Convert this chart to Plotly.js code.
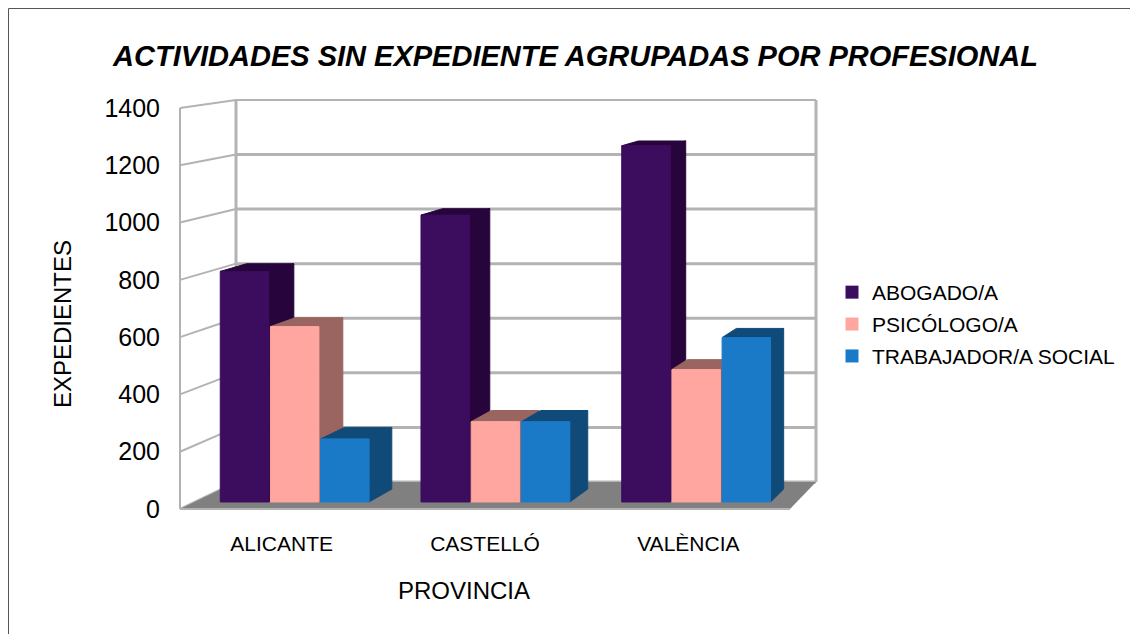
<!DOCTYPE html>
<html><head><meta charset="utf-8">
<script src="https://cdn.plot.ly/plotly-3.0.1.min.js"></script>
<style>html,body{margin:0;padding:0;background:#fff}#c{width:1130px;height:634px}</style>
</head><body><div id="c"></div>
<script>
const categories = ['ALICANTE', 'CASTELLÓ', 'VALÈNCIA'];
const abogado = [815, 1014, 1259];
const psicologo = [620, 284, 468];
const trabajador = [223, 284, 581];
const seriesNames = ['ABOGADO/A', 'PSICÓLOGO/A', 'TRABAJADOR/A SOCIAL'];
const yTicks = [0, 200, 400, 600, 800, 1000, 1200, 1400];
const frontColors = ['#3c0c5e', '#ffa6a0', '#1b7ac8'];
const darkColors = ['#27053c', '#9a6560', '#104a78'];
const FONT = 'Liberation Sans, Arial, sans-serif';

const series = [abogado, psicologo, trabajador];
const backShrink = 54.6 / 57.3, backDrop = 27 / 57.3 * 200;
const backXStart = 56 / 610, backXEnd = 26 / 610;
function proj(u, v, d) {
  const xf = u, xb = backXStart + u * (1 + backXEnd - backXStart);
  const yb = backDrop + v * backShrink;
  return [xf + (xb - xf) * d, v + (yb - v) * d];
}
function poly(pts, color, lineColor, lw, mode) {
  return {
    type: 'scatter', x: pts.map(p => p[0]), y: pts.map(p => p[1]),
    mode: 'lines', fill: mode === 'open' ? 'none' : 'toself', fillcolor: color,
    line: {color: lineColor || color, width: lw === undefined ? 1 : lw},
    hoverinfo: 'skip', showlegend: false, cliponaxis: false
  };
}
const traces = [];
const GRID = '#b3b3b3';
yTicks.forEach((t, k) => {
  const top = k === yTicks.length - 1;
  traces.push(poly([proj(0, t, 0), proj(0, t, 1)], null, GRID, 2, 'open'));
  traces.push(poly([proj(0, t, 1), proj(1, t, 1)], null, GRID, top ? 2 : 3, 'open'));
});
traces.push(poly([proj(0, 0, 0), proj(0, 1400, 0)], null, GRID, 2, 'open'));
traces.push(poly([proj(0, 0, 1), proj(0, 1400, 1)], null, GRID, 3, 'open'));
traces.push(poly([proj(1, 0, 1), proj(1, 1400, 1)], null, GRID, 3, 'open'));
traces.push(poly([proj(0, 0, 0), proj(1, 0, 0), proj(1, 0, 1), proj(0, 0, 1), proj(0, 0, 0)], '#808080', '#808080', 0));
traces.push(poly([proj(0, 0, 0), proj(1, 0, 0)], null, GRID, 2, 'open'));
const dF = 0.26, dB = 0.74, barW = 0.0805;
categories.forEach((cat, i) => {
  series.forEach((vals, s) => {
    const v = vals[i];
    const u0 = i / categories.length + 1 / 24 + s / 12 + 0.001, u1 = u0 + barW;
    traces.push(poly([proj(u1, 0, dF), proj(u1, 0, dB), proj(u1, v, dB), proj(u1, v, dF), proj(u1, 0, dF)], darkColors[s]));
    traces.push(poly([proj(u0, v, dF), proj(u1, v, dF), proj(u1, v, dB), proj(u0, v, dB), proj(u0, v, dF)], darkColors[s]));
    traces.push(poly([proj(u0, 0, dF), proj(u1, 0, dF), proj(u1, v, dF), proj(u0, v, dF), proj(u0, 0, dF)], frontColors[s]));
  });
});
seriesNames.forEach((n, s) => traces.push({
  type: 'scatter', mode: 'markers', x: [null], y: [null], name: n, legendgroup: n,
  marker: {symbol: 'square', size: 13, color: frontColors[s]}, hoverinfo: 'skip'
}));

// pixel frame: plot area spans x 108..820 and y 96..552
const PL = 108, PR = 820, PT = 96, PB = 552, PW = PR - PL, PH = PB - PT;
const pxPerU = 610, pxPerV = 401 / 1400;
const fx = px => (px - PL) / PW, fy = py => (PB - py) / PH;
const layout = {
  width: 1130, height: 634, paper_bgcolor: '#fff', plot_bgcolor: 'rgba(0,0,0,0)',
  margin: {l: PL, r: 1130 - PR, t: PT, b: 634 - PB, autoexpand: false},
  title: {text: '<b><i>ACTIVIDADES SIN EXPEDIENTE AGRUPADAS POR PROFESIONAL</i></b>',
    x: 575.5 / 1130, xanchor: 'center', xref: 'container', y: 1 - 56 / 634, yanchor: 'middle', yref: 'container',
    font: {family: FONT, size: 29, color: '#000'}},
  xaxis: {range: [(PL - 180) / pxPerU, (PR - 180) / pxPerU], showgrid: false, zeroline: false, showline: false, ticks: '',
    anchor: 'free', position: fy(511),
    tickmode: 'array', tickvals: categories.map((c, i) => (i + 0.5) / categories.length), ticktext: categories,
    ticklabelstandoff: 18, tickfont: {family: FONT, size: 21, color: '#000'},
    title: {text: 'PROVINCIA', standoff: 28, font: {family: FONT, size: 24, color: '#000'}}},
  yaxis: {range: [(509 - PB) / pxPerV, (509 - PT) / pxPerV], showgrid: false, zeroline: false, showline: false, ticks: '',
    anchor: 'free', position: fx(160), tickmode: 'array', tickvals: yTicks,
    tickfont: {family: FONT, size: 25, color: '#000'},
    title: {text: 'EXPEDIENTES', standoff: 24, font: {family: FONT, size: 24, color: '#000'}}},
  legend: {x: fx(838), y: fy(272), xanchor: 'left', yanchor: 'top', indentation: -6,
    font: {family: FONT, size: 21, color: '#000'}, tracegroupgap: 1.6, itemclick: false, itemdoubleclick: false,
    bgcolor: 'rgba(0,0,0,0)'},
  showlegend: true,
  shapes: [
    {type: 'line', xref: 'paper', yref: 'paper', x0: fx(8.5), x1: fx(1130), y0: fy(8.5), y1: fy(8.5), line: {color: '#555', width: 1}},
    {type: 'line', xref: 'paper', yref: 'paper', x0: fx(8.5), x1: fx(8.5), y0: fy(8.5), y1: fy(634), line: {color: '#555', width: 1}}
  ]
};
Plotly.newPlot('c', traces, layout, {displayModeBar: false, staticPlot: true});
</script></body></html>
